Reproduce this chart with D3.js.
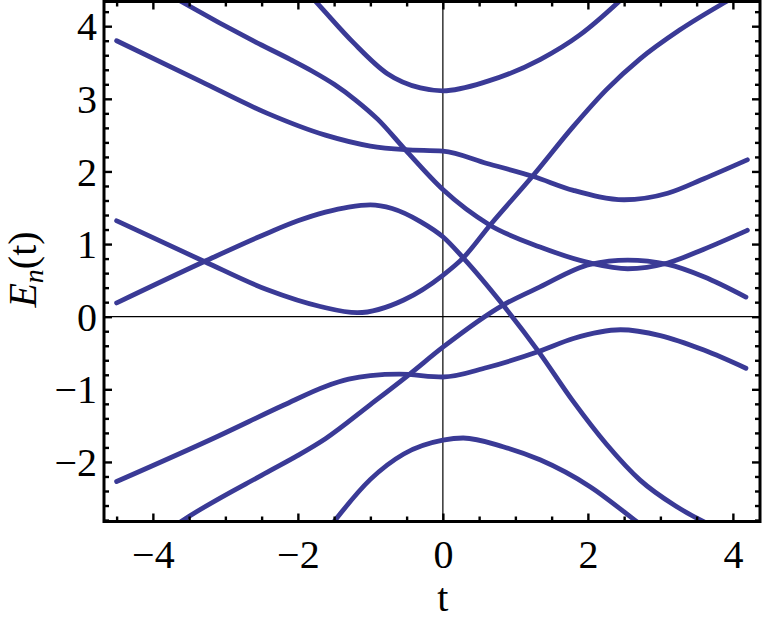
<!DOCTYPE html>
<html>
<head>
<meta charset="utf-8">
<script src="https://cdn.jsdelivr.net/npm/d3@7"></script>
<style>
  html, body { margin: 0; padding: 0; background: #fff; }
  svg { display: block; }
  .tick-label { font-family: "Liberation Serif", "Times New Roman", serif; font-size: 40px; fill: #000; }
</style>
</head>
<body>
<div id="chart"></div>
<script>
// levels E_n(t) as [t, E] pairs
const levelA = [[-4.5, 3.80], [-3.34, 3.24], [-2.42, 2.80], [-1.62, 2.50], [-1.0, 2.35], [-0.52, 2.30], [0, 2.28], [0.61, 2.11], [1.25, 1.93], [1.8, 1.74], [2.5, 1.61], [3.1, 1.70], [3.6, 1.90], [4.2, 2.16]];
const levelB = [[-3.8, 4.45], [-3.61, 4.34], [-2.6, 3.79], [-2.1, 3.54], [-1.8, 3.38], [-1.5, 3.20], [-1.2, 2.98], [-0.9, 2.72], [-0.52, 2.30], [0, 1.75], [0.65, 1.26], [1.34, 0.96], [2.03, 0.74], [2.55, 0.66], [3.1, 0.74], [3.6, 0.93], [4.2, 1.19]];
const levelC = [[-1.9, 4.5], [-1.69, 4.27], [-1.23, 3.77], [-0.77, 3.35], [-0.31, 3.15], [0, 3.11], [0.61, 3.24], [1.34, 3.54], [1.89, 3.88], [2.43, 4.34], [2.6, 4.5]];
const levelD = [[-4.5, 1.32], [-3.29, 0.76], [-2.42, 0.37], [-1.69, 0.14], [-1.18, 0.055], [-0.54, 0.23], [0, 0.57], [0.28, 0.81], [0.65, 1.26], [1.25, 1.95], [1.8, 2.62], [2.26, 3.13], [2.72, 3.55], [3.27, 3.95], [3.91, 4.34], [4.1, 4.45]];
const levelE = [[-4.5, 0.19], [-3.29, 0.76], [-2.42, 1.15], [-2.0, 1.32], [-1.62, 1.44], [-1.3, 1.51], [-1.0, 1.54], [-0.7, 1.49], [-0.31, 1.31], [0, 1.10], [0.28, 0.81], [0.83, 0.16], [1.32, -0.48], [1.8, -1.17], [2.26, -1.76], [2.72, -2.25], [3.2, -2.6], [3.59, -2.82], [3.8, -2.92]];
const levelF = [[-4.5, -2.27], [-3.11, -1.65], [-2.2, -1.22], [-1.62, -0.96], [-1.3, -0.86], [-1.0, -0.81], [-0.6, -0.79], [0, -0.83], [0.61, -0.70], [1.32, -0.48], [1.8, -0.30], [2.45, -0.18], [3.0, -0.26], [3.6, -0.46], [4.18, -0.71]];
const levelG = [[-3.8, -2.95], [-3.61, -2.82], [-2.42, -2.14], [-2.0, -1.91], [-1.62, -1.68], [-1.0, -1.21], [-0.47, -0.80], [0, -0.42], [0.83, 0.16], [1.34, 0.41], [2.03, 0.72], [2.55, 0.78], [3.1, 0.72], [3.6, 0.55], [4.18, 0.27]];
const levelH = [[-1.6, -2.95], [-1.5, -2.82], [-1.0, -2.24], [-0.54, -1.89], [0, -1.70], [0.28, -1.67], [0.83, -1.79], [1.34, -1.97], [2.03, -2.34], [2.67, -2.82], [2.8, -2.92]];
const levels = [levelA, levelB, levelC, levelD, levelE, levelF, levelG, levelH];

// ticks
const xMajor = [-4, -2, 0, 2, 4];
const xMinor = [-4.5, -3.5, -3, -2.5, -1.5, -1, -0.5, 0.5, 1, 1.5, 2.5, 3, 3.5];
const yMajor = [-2, -1, 0, 1, 2, 3, 4];
const xRange = [-4.674, 4.374];
const yRange = [-2.82, 4.34];

const width = 764, height = 621;
const frame = { left: 104, right: 760, top: 1.5, bottom: 521.5 };
const lineColor = '#3a3a96';

const svg = d3.select('#chart').append('svg')
    .attr('width', width)
    .attr('height', height);

const x = d3.scaleLinear().domain(xRange).range([frame.left, frame.right]);
const y = d3.scaleLinear().domain(yRange).range([frame.bottom, frame.top]);

// y minor ticks every 0.2
const yMinor = d3.range(-14, 22).map(i => i / 5).filter(v => Math.abs(v - Math.round(v)) > 1e-6);

svg.append('defs').append('clipPath').attr('id', 'plotClip')
    .append('rect')
    .attr('x', frame.left).attr('y', frame.top)
    .attr('width', frame.right - frame.left).attr('height', frame.bottom - frame.top);

// zero axes
svg.append('line')
    .attr('x1', x(0)).attr('x2', x(0)).attr('y1', frame.top).attr('y2', frame.bottom)
    .attr('stroke', '#000').attr('stroke-width', 1.2);
svg.append('line')
    .attr('x1', frame.left).attr('x2', frame.right).attr('y1', y(0)).attr('y2', y(0))
    .attr('stroke', '#000').attr('stroke-width', 1.2);

// curves
const line = d3.line()
    .x(d => x(d[0]))
    .y(d => y(d[1]))
    .curve(d3.curveMonotoneX);

svg.append('g').attr('clip-path', 'url(#plotClip)')
    .selectAll('path')
    .data(levels)
    .enter()
    .append('path')
    .attr('d', line)
    .attr('fill', 'none')
    .attr('stroke', lineColor)
    .attr('stroke-width', 4.8)
    .attr('stroke-linecap', 'round');

// axes, ticks inside the frame
const fmt = d => d < 0 ? '\u2212' + Math.abs(d) : d;
const bottomAxis = d3.axisBottom(x).tickValues(xMajor).tickSize(-8).tickPadding(18).tickFormat(fmt);
const leftAxis = d3.axisLeft(y).tickValues(yMajor).tickSize(-8).tickPadding(7).tickFormat(fmt);

const gx = svg.append('g').attr('transform', `translate(0,${frame.bottom})`).call(bottomAxis);
const gy = svg.append('g').attr('transform', `translate(${frame.left},0)`).call(leftAxis);
svg.append('g').attr('transform', `translate(0,${frame.top})`)
    .call(d3.axisTop(x).tickValues(xMajor).tickSize(-8).tickFormat(''));
svg.append('g').attr('transform', `translate(${frame.right},0)`)
    .call(d3.axisRight(y).tickValues(yMajor).tickSize(-8).tickFormat(''));

// minor ticks
svg.append('g').attr('transform', `translate(0,${frame.bottom})`)
    .call(d3.axisBottom(x).tickValues(xMinor).tickSize(-5).tickFormat(''));
svg.append('g').attr('transform', `translate(0,${frame.top})`)
    .call(d3.axisTop(x).tickValues(xMinor).tickSize(-5).tickFormat(''));
svg.append('g').attr('transform', `translate(${frame.left},0)`)
    .call(d3.axisLeft(y).tickValues(yMinor).tickSize(-5).tickFormat(''));
svg.append('g').attr('transform', `translate(${frame.right},0)`)
    .call(d3.axisRight(y).tickValues(yMinor).tickSize(-5).tickFormat(''));

svg.selectAll('.domain').remove();
svg.selectAll('.tick line').attr('stroke', '#000').attr('stroke-width', 2.4);
svg.selectAll('.tick text').attr('class', 'tick-label').attr('font-size', null).attr('font-family', null);
gx.selectAll('.tick text').attr('dy', '0.71em');
gy.selectAll('.tick text').attr('dy', '0.34em');

// frame
svg.append('rect')
    .attr('x', frame.left).attr('y', frame.top)
    .attr('width', frame.right - frame.left).attr('height', frame.bottom - frame.top)
    .attr('fill', 'none').attr('stroke', '#000').attr('stroke-width', 3);

// axis labels
svg.append('text')
    .attr('class', 'tick-label')
    .attr('x', x(0)).attr('y', 611)
    .attr('text-anchor', 'middle')
    .text('t');

const ylab = svg.append('text')
    .attr('class', 'tick-label')
    .attr('transform', `translate(36,${y(0.65)}) rotate(-90)`)
    .attr('text-anchor', 'middle');
ylab.append('tspan').attr('font-style', 'italic').text('E');
ylab.append('tspan').attr('font-style', 'italic').attr('font-size', '28px').attr('dy', 7).text('n');
ylab.append('tspan').attr('dy', -7).text('(t)');
</script>
</body>
</html>
